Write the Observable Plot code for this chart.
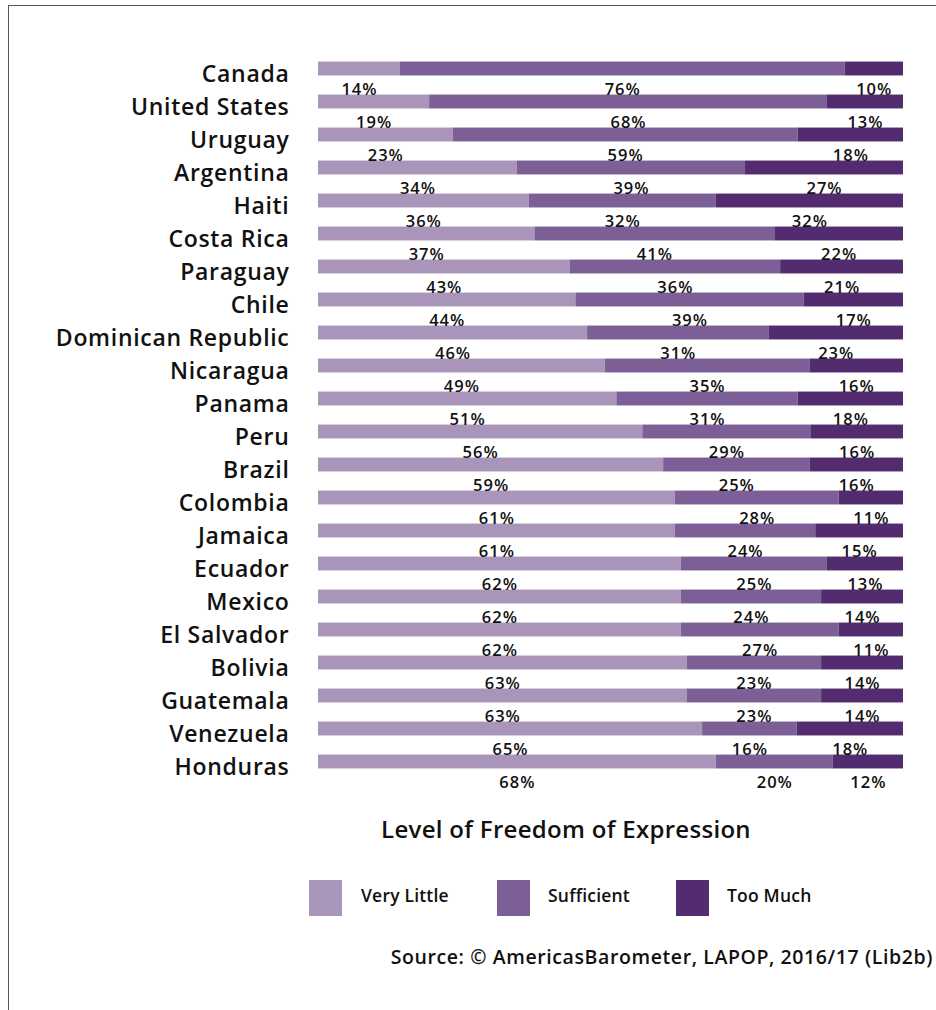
<!DOCTYPE html>
<html>
<head>
<meta charset="utf-8">
<script src="https://cdn.jsdelivr.net/npm/d3@7"></script>
<script src="https://cdn.jsdelivr.net/npm/@observablehq/plot@0.6"></script>
<style>
  html, body { margin: 0; padding: 0; background: #fff; }
  body { width: 936px; height: 1010px; position: relative; overflow: hidden; font-family: "Open Sans", sans-serif; color: #111; }
  #frame { position: absolute; left: 8px; top: 5px; width: 1000px; height: 1100px; border-left: 1.5px solid #555; border-top: 1.5px solid #555; box-sizing: border-box; }
  #chart { position: absolute; left: 0; top: 0; }
  #chart g[aria-label="y-axis tick label"] text { letter-spacing: 0.7px; }
  #chart g[aria-label="text"] text { letter-spacing: 1px; }
  .abs { position: absolute; white-space: nowrap; font-weight: 600; }
  .sw { position: absolute; width: 33px; height: 36px; }
</style>
</head>
<body>
<div id="frame"></div>
<div id="chart"></div>
<div id="legend"></div>
<script>
const countries = ["Canada","United States","Uruguay","Argentina","Haiti","Costa Rica","Paraguay","Chile","Dominican Republic","Nicaragua","Panama","Peru","Brazil","Colombia","Jamaica","Ecuador","Mexico","El Salvador","Bolivia","Guatemala","Venezuela","Honduras"];
const categories = ["Very Little","Sufficient","Too Much"];
const colors = ["#a995b9","#7c5f97","#532b6f"];
const veryLittle = [14,19,23,34,36,37,43,44,46,49,51,56,59,61,61,62,62,62,63,63,65,68];
const sufficient = [76,68,59,39,32,41,36,39,31,35,31,29,25,28,24,25,24,27,23,23,16,20];
const tooMuch    = [10,13,18,27,32,22,21,17,23,16,18,16,16,11,15,13,14,11,14,14,18,12];
const title = "Level of Freedom of Expression";
const source = "Source: \u00A9 AmericasBarometer, LAPOP, 2016/17 (Lib2b)";

const series = [veryLittle, sufficient, tooMuch];
const data = [];
countries.forEach((c, i) => {
  categories.forEach((cat, j) => {
    data.push({country: c, category: cat, value: series[j][i]});
  });
});

const chart = Plot.plot({
  width: 936,
  height: 800,
  marginLeft: 318,
  marginRight: 33,
  marginTop: 51.45,
  marginBottom: 20.45,
  x: {axis: null, domain: [0, 1]},
  y: {domain: countries, padding: 0, label: null},
  color: {domain: categories, range: colors},
  style: {fontFamily: "Open Sans, sans-serif", color: "#111"},
  marks: [
    Plot.barX(data, Plot.stackX({offset: "normalize", x: "value", y: "country", z: "category", fill: "category", order: categories, insetTop: 9.55, insetBottom: 9.55})),
    Plot.text(data, Plot.stackX({offset: "normalize", x: "value", y: "country", z: "category", order: categories, text: d => d.value + "%", dy: 21, fontSize: 16.5, fontWeight: 600, fill: "#111"})),
    Plot.axisY({tickSize: 0, tickPadding: 29, fontSize: 23, fontWeight: 600, dy: 6, label: null, fill: "#111"})
  ]
});
document.getElementById("chart").appendChild(chart);

const legend = document.getElementById("legend");
function addText(txt, x, y, size, anchor, weight, spacing) {
  const el = document.createElement("div");
  el.className = "abs";
  el.textContent = txt;
  el.style.fontSize = size + "px";
  el.style.lineHeight = "1";
  if (weight) el.style.fontWeight = weight;
  if (spacing) el.style.letterSpacing = spacing + "px";
  el.style.top = (y - size * 0.68) + "px";
  if (anchor === "middle") { el.style.left = x + "px"; el.style.transform = "translateX(-50%)"; }
  else if (anchor === "end") { el.style.right = (936 - x) + "px"; }
  else { el.style.left = x + "px"; }
  legend.appendChild(el);
}
addText(title, 566, 833, 24, "middle", 600, 0.3);
const swX = [309, 497, 676];
const labX = [361, 548, 727];
categories.forEach((cat, j) => {
  const s = document.createElement("div");
  s.className = "sw";
  s.style.left = swX[j] + "px";
  s.style.top = "880px";
  s.style.background = colors[j];
  legend.appendChild(s);
  addText(cat, labX[j], 899, 17.5, "start", 600, 0.2);
});
addText(source, 933, 960, 19.5, "end", 600, 0.6);
</script>
</body>
</html>
